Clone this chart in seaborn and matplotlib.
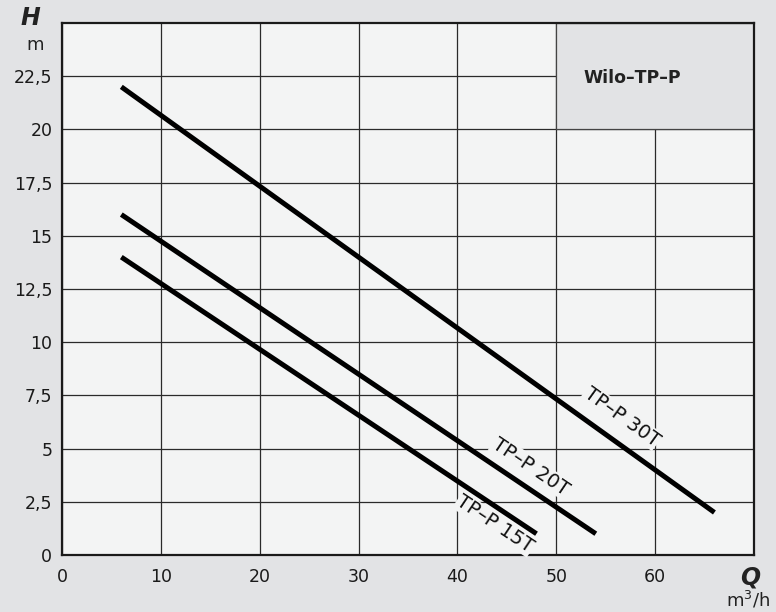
import numpy as np
import pandas as pd
import matplotlib
matplotlib.use("Agg")
import matplotlib.pyplot as plt
import seaborn as sns
from matplotlib.patches import Rectangle
from matplotlib.ticker import FuncFormatter

# Pump curves (Q in m3/h, H in m)
models = ["TP–P 15T", "TP–P 20T", "TP–P 30T"]
q_start = [6, 6, 6]
h_start = [14, 16, 22]
q_end = [48, 54, 66]
h_end = [1, 1, 2]

# where the curve labels sit
label_q = [43.8, 47.4, 56.6]
label_h = [1.45, 4.15, 6.5]

x_ticks = [0, 10, 20, 30, 40, 50, 60]
y_ticks = [0, 2.5, 5, 7.5, 10, 12.5, 15, 17.5, 20, 22.5]

rows = []
for m, qs, hs, qe, he in zip(models, q_start, h_start, q_end, h_end):
    rows.append({"model": m, "Q": qs, "H": hs})
    rows.append({"model": m, "Q": qe, "H": he})
df = pd.DataFrame(rows)

sns.set_style("white")
plt.rcParams['font.family'] = ['DejaVu Sans']

bg = "#e2e3e5"
face = "#f3f4f4"

fig = plt.figure(figsize=(7.76, 6.12), dpi=100, facecolor=bg)
ax = fig.add_axes([0.0799, 0.0931, 0.8917, 0.8693])
ax.set_facecolor(face)

sns.lineplot(data=df, x="Q", y="H", hue="model", palette=["black"] * 3,
             linewidth=3.6, legend=False, ax=ax, zorder=4,
             solid_capstyle="butt")

ax.set_xlim(0, 70)
ax.set_ylim(0, 25)
ax.set_xticks(x_ticks)
ax.set_yticks(y_ticks)
ax.yaxis.set_major_formatter(FuncFormatter(lambda v, p: f"{v:g}".replace(".", ",")))
ax.tick_params(length=0, labelsize=12.5, pad=7, colors="#1a1a1a")
ax.tick_params(axis="x", pad=9)
ax.set_xlabel("")
ax.set_ylabel("")
ax.grid(True, color="#2a2a2a", linewidth=0.9)
ax.set_axisbelow(True)
for s in ax.spines.values():
    s.set_color("#1a1a1a")
    s.set_linewidth(1.6)

# grey title box in the top-right corner
ax.add_patch(Rectangle((50, 20), 20, 5, facecolor=bg, edgecolor="#444444",
                       linewidth=0.9, zorder=2))
ax.text(57.7, 22.4, "Wilo–TP–P", fontsize=12.5, fontweight="bold",
        color="#222222", ha="center", va="center", zorder=3)

# curve labels rotated along each line
fig.canvas.draw()
for m, qs, hs, qe, he, lq, lh in zip(models, q_start, h_start, q_end, h_end, label_q, label_h):
    p1 = ax.transData.transform((qs, hs))
    p2 = ax.transData.transform((qe, he))
    ang = np.degrees(np.arctan2(p2[1] - p1[1], p2[0] - p1[0]))
    ax.text(lq, lh, m, rotation=ang, rotation_mode="anchor", fontsize=14,
            ha="center", va="center", color="#111111", zorder=5,
            bbox=dict(facecolor=face, edgecolor="none", pad=0.5))

# axis titles
fig.text(30 / 776, 1 - 18 / 612, "H", fontsize=17, fontweight="bold",
         fontstyle="italic", ha="center", va="center", color="#222222")
fig.text(35 / 776, 1 - 45 / 612, "m", fontsize=13, ha="center", va="center",
         color="#222222")
fig.text(750 / 776, 1 - 577 / 612, "Q", fontsize=17, fontweight="bold",
         fontstyle="italic", ha="center", va="center", color="#222222")
fig.text(748 / 776, 1 - 600 / 612, "m$^3$/h", fontsize=13, ha="center",
         va="center", color="#222222")

fig.savefig("out.png", dpi=100, facecolor=bg)
